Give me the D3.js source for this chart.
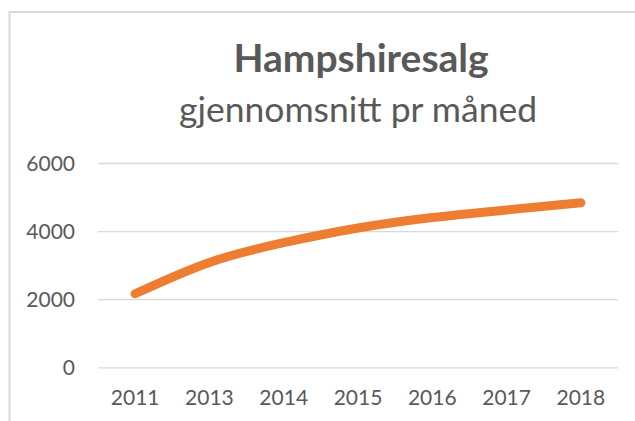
<!DOCTYPE html>
<html>
<head>
<meta charset="utf-8">
<script src="https://cdn.jsdelivr.net/npm/d3@7"></script>
<style>
  html, body { margin: 0; padding: 0; background: #fff; }
  svg { display: block; }
</style>
</head>
<body>
<div id="chart"></div>
<script>
const title = "Hampshiresalg";
const subtitle = "gjennomsnitt pr måned";
const categories = ["2011", "2013", "2014", "2015", "2016", "2017", "2018"];
const values = [2160, 3080, 3660, 4090, 4400, 4620, 4830];
const yTicks = [0, 2000, 4000, 6000];

const W = 635, H = 421;
const textColor = "#595959";
const gridColor = "#d9d9d9";
const lineColor = "#ED7D31";
const font = "Lato, 'Open Sans', sans-serif";

const svg = d3.select("#chart").append("svg")
  .attr("width", W).attr("height", H);

// chart frame
svg.append("rect")
  .attr("x", 9.5).attr("y", 12)
  .attr("width", 800).attr("height", 600)
  .attr("fill", "#fff")
  .attr("stroke", gridColor)
  .attr("stroke-width", 2);

// titles
svg.append("text")
  .attr("x", 361).attr("y", 72)
  .attr("text-anchor", "middle")
  .attr("font-family", font).attr("font-weight", 700)
  .attr("font-size", 39).attr("fill", textColor)
  .text(title);

svg.append("text")
  .attr("x", 358).attr("y", 122)
  .attr("text-anchor", "middle")
  .attr("font-family", font).attr("font-weight", 400)
  .attr("font-size", 35.5).attr("fill", textColor)
  .text(subtitle);

// scales
const x = d3.scaleBand().domain(categories).range([98, 618]).padding(0);
const y = d3.scaleLinear().domain([0, 6000]).range([367.3, 163]);

// gridlines + y labels via axis
const yAxis = d3.axisLeft(y).tickValues(yTicks).tickSize(-(618 - 98)).tickPadding(23)
  .tickFormat(d3.format("d"));
const gy = svg.append("g").attr("transform", "translate(98,0)").call(yAxis);
gy.select(".domain").remove();
gy.selectAll(".tick line").attr("stroke", gridColor).attr("stroke-width", 1.3);
gy.selectAll(".tick text")
  .attr("fill", textColor).attr("font-family", font).attr("font-size", 21)
  .attr("dy", "0.35em");

// x axis labels
const xAxis = d3.axisBottom(x).tickSize(0).tickPadding(0);
const gx = svg.append("g").attr("transform", "translate(0,398)").call(xAxis);
gx.select(".domain").remove();
gx.selectAll(".tick text")
  .attr("fill", textColor).attr("font-family", font).attr("font-size", 21)
  .attr("dy", "0.35em");

// line
const line = d3.line()
  .x((d, i) => x(categories[i]) + x.bandwidth() / 2)
  .y(d => y(d))
  .curve(d3.curveNatural);

svg.append("path")
  .datum(values)
  .attr("d", line)
  .attr("fill", "none")
  .attr("stroke", lineColor)
  .attr("stroke-width", 9)
  .attr("stroke-linecap", "round")
  .attr("stroke-linejoin", "round");
</script>
</body>
</html>
